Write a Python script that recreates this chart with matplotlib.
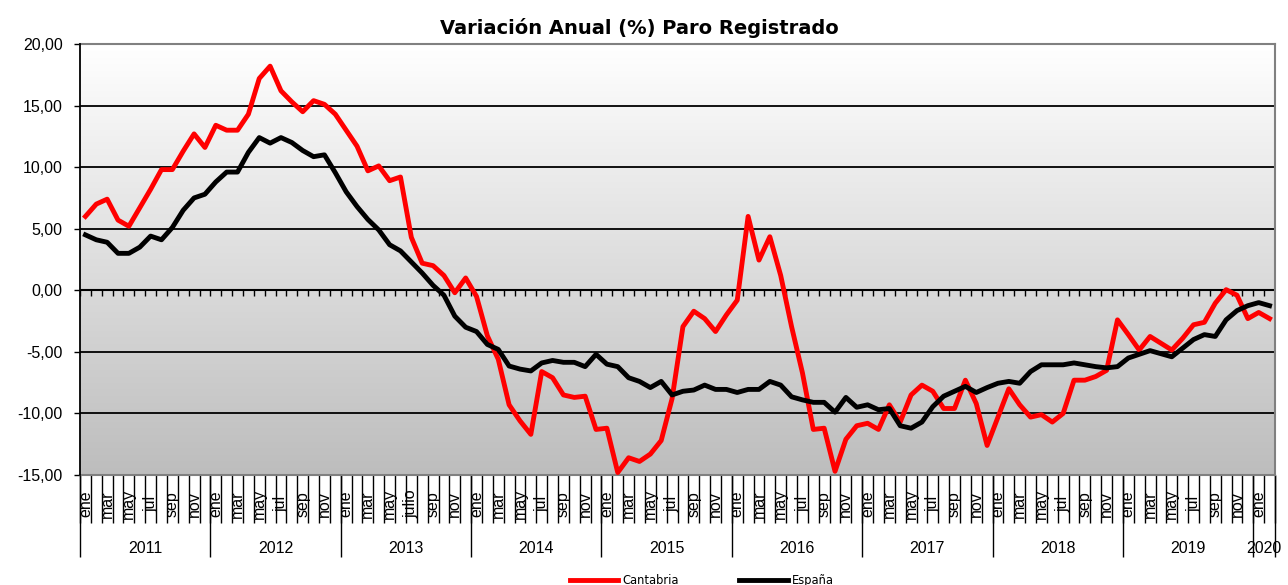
import numpy as np
import matplotlib
matplotlib.use('Agg')
from matplotlib import pyplot as plt
from matplotlib.colors import LinearSegmentedColormap
from matplotlib.ticker import FuncFormatter

# Monthly data, ene 2011 .. feb 2020
years = ['2011', '2012', '2013', '2014', '2015', '2016', '2017', '2018', '2019', '2020']
month_names = ['ene', 'feb', 'mar', 'abr', 'may', 'jun', 'jul', 'ago', 'sep', 'oct', 'nov', 'dic']

cantabria = [
    6.0, 7.0, 7.4, 5.7, 5.2, 6.7, 8.2, 9.8, 9.8, 11.3, 12.7, 11.6,
    13.4, 13.0, 13.0, 14.3, 17.2, 18.2, 16.2, 15.3, 14.5, 15.4, 15.1, 14.3,
    13.0, 11.7, 9.7, 10.1, 8.9, 9.2, 4.3, 2.2, 2.0, 1.2, -0.2, 1.0,
    -0.5, -3.7, -5.6, -9.3, -10.6, -11.7, -6.6, -7.1, -8.5, -8.7, -8.6, -11.3,
    -11.2, -14.8, -13.6, -13.9, -13.3, -12.2, -8.8, -2.95, -1.7, -2.3, -3.35, -2.0,
    -0.8, 6.0, 2.45, 4.35, 1.2, -2.95, -6.7, -11.3, -11.2, -14.7, -12.1, -11.0,
    -10.8, -11.3, -9.3, -10.7, -8.5, -7.7, -8.2, -9.6, -9.6, -7.3, -9.2, -12.6,
    -10.3, -8.0, -9.3, -10.3, -10.1, -10.7, -10.0, -7.3, -7.3, -7.0, -6.5, -2.4,
    -3.6, -4.85, -3.75, -4.3, -4.85, -3.9, -2.8, -2.6, -1.05, 0.05, -0.4, -2.3,
    -1.8, -2.3,
]

espana = [
    4.5, 4.1, 3.9, 3.0, 3.0, 3.5, 4.4, 4.1, 5.1, 6.5, 7.5, 7.8,
    8.8, 9.6, 9.6, 11.2, 12.4, 11.95, 12.4, 12.0, 11.35, 10.85, 11.0, 9.55,
    8.0, 6.8, 5.75, 4.9, 3.7, 3.2, 2.3, 1.4, 0.4, -0.4, -2.1, -3.0,
    -3.35, -4.4, -4.8, -6.15, -6.4, -6.55, -5.9, -5.7, -5.85, -5.85, -6.2, -5.2,
    -6.0, -6.2, -7.1, -7.4, -7.9, -7.4, -8.5, -8.2, -8.1, -7.7, -8.05, -8.05,
    -8.3, -8.05, -8.05, -7.4, -7.7, -8.65, -8.9, -9.1, -9.1, -9.9, -8.7, -9.5,
    -9.3, -9.7, -9.6, -11.0, -11.2, -10.7, -9.45, -8.6, -8.2, -7.8, -8.3, -7.9,
    -7.55, -7.4, -7.55, -6.6, -6.05, -6.05, -6.05, -5.9, -6.05, -6.2, -6.3, -6.2,
    -5.5, -5.2, -4.9, -5.15, -5.4, -4.7, -4.0, -3.6, -3.75, -2.4, -1.65, -1.25,
    -1.0, -1.25,
]

n = len(cantabria)
x = np.arange(n)

# month labels (only odd months shown), 2013 uses "julio"
labels = []
for i in range(n):
    m = i % 12
    y = years[i // 12]
    if m % 2 == 1:
        labels.append('')
    elif m == 6 and y == '2013':
        labels.append('julio')
    else:
        labels.append(month_names[m])

W, H = 1288, 585
fig = plt.figure(figsize=(W / 100, H / 100), dpi=100)
ax = fig.add_axes([80 / W, 1 - 475 / H, 1195 / W, 431 / H])

# gradient background
cmap = LinearSegmentedColormap.from_list('bg', ['#ffffff', '#bdbdbd'])
grad = np.linspace(0, 1, 256).reshape(-1, 1)
ax.imshow(grad, extent=[0, 1, 0, 1], transform=ax.transAxes, aspect='auto',
          cmap=cmap, zorder=0)

ax.set_xlim(-0.5, n - 0.5)
ax.set_ylim(-15, 20)

# horizontal grid
for v in [-10, -5, 5, 10, 15]:
    ax.axhline(v, color='black', lw=1.3, zorder=1)
ax.axhline(0, color='black', lw=1.5, zorder=1)

# small tick marks along the zero line
bounds = np.arange(-0.5, n, 1)
ax.plot(bounds, np.zeros(len(bounds)), linestyle='none', marker=3,
        markersize=4, markeredgewidth=1, color='black', zorder=2)

ax.plot(x, cantabria, color='#ff0000', lw=3.5, label='Cantabria', zorder=3)
ax.plot(x, espana, color='black', lw=3.5, label='España', zorder=4)

# spines
for s in ['top', 'right', 'bottom']:
    ax.spines[s].set_color('#808080')
    ax.spines[s].set_linewidth(1.5)
ax.spines['left'].set_color('black')
ax.spines['left'].set_linewidth(1.3)
ax.spines['left'].set_zorder(5)

# y axis
ax.set_yticks(range(-15, 21, 5))
ax.yaxis.set_major_formatter(FuncFormatter(lambda v, p: f'{v:.2f}'.replace('.', ',')))
ax.tick_params(axis='y', direction='out', length=4.5, width=1, pad=8,
               labelsize=11.5, colors='black')
for t in ax.get_yticklabels():
    t.set_family('Liberation Sans')

# x axis: separators as minor ticks, labels drawn as text
ax.set_xticks([])
ax.set_xticks(bounds, minor=True)
ax.tick_params(axis='x', which='minor', direction='out', length=34.5,
               width=1, color='black')

tr = ax.get_xaxis_transform()
for i, lab in enumerate(labels):
    if lab:
        ax.text(i, -0.067, lab, transform=tr, rotation=90, ha='center',
                va='center', fontsize=11.5, family='Liberation Sans')

year_bounds = [b for b in bounds if (b + 0.5) % 12 == 0] + [n - 0.5]
ax.vlines(year_bounds, -0.19, 0, transform=tr, color='black', lw=1,
          clip_on=False)
for k, yr in enumerate(years):
    start = k * 12 - 0.5
    end = min(start + 12, n - 0.5)
    ax.text((start + end) / 2, -0.17, yr, transform=tr, ha='center',
            va='center', fontsize=11.5, family='Liberation Sans')

fig.text(0.4965, 0.952, 'Variación Anual (%) Paro Registrado', ha='center',
         va='center', fontsize=14, fontweight='bold', family='DejaVu Sans')

fig.legend(loc='center', bbox_to_anchor=(0.545, 0.008), ncol=2, frameon=False,
           handlelength=4.2, handletextpad=0.4, columnspacing=5.2,
           prop={'family': 'DejaVu Sans', 'size': 8.3})

fig.savefig('out.png', dpi=100)
